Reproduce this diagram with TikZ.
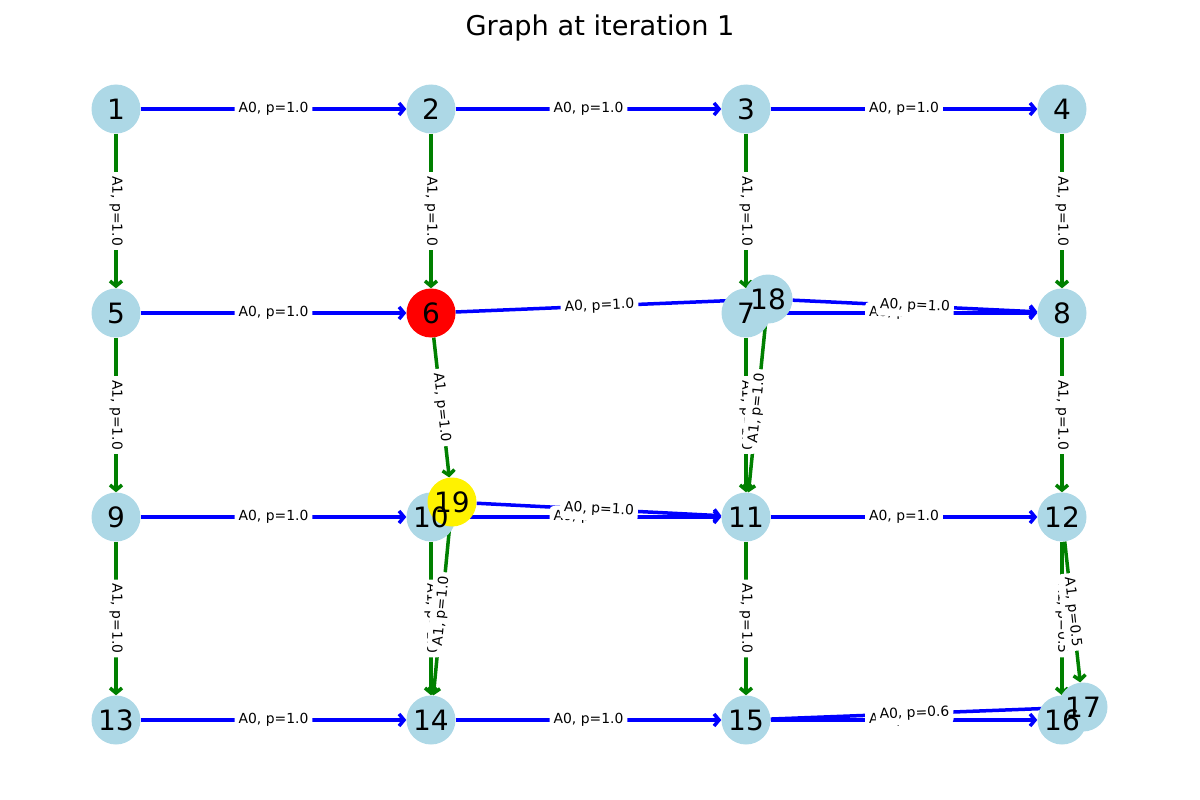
\documentclass[tikz,border=0pt]{standalone}
\usepackage{fontspec}
\setmainfont{DejaVu Sans}
\usetikzlibrary{arrows.meta,calc}
\pgfdeclarelayer{edges}
\pgfdeclarelayer{elabels}
\pgfsetlayers{edges,elabels,main}
\definecolor{lb}{HTML}{ADD8E6}
\definecolor{egreen}{HTML}{008000}
\tikzset{
  vtx/.style={circle, fill=lb, draw=none, minimum size=49pt, inner sep=0pt},
  vlab/.style={font=\fontsize{28}{28}\selectfont, inner sep=0pt, text=black},
  a0/.style={draw=blue, line width=3.5pt, -{Straight Barb[length=5pt,width=12pt]}},
  a1/.style={a0, draw=egreen},
  elab/.style={fill=white, inner xsep=4pt, inner ysep=4.5pt, rounded corners=4pt, font=\fontsize{13.9}{14}\selectfont, text=black},
}
\newcommand\myedge[5]{%
  \begin{pgfonlayer}{edges}\draw[#3] (n#1) -- (n#2);\end{pgfonlayer}%
  \begin{pgfonlayer}{elabels}\node[elab, rotate=#5] (l#1-#2) at ($(n#1)!0.5!(n#2)$) {#4};\end{pgfonlayer}%
}
\begin{document}
\begin{tikzpicture}[x=1pt,y=-1pt]
\useasboundingbox (0,0) rectangle (1200,800);
\node[font=\fontsize{27.2}{28}\selectfont] (title) at (600,28) {Graph at iteration 1};
% vertices
\node[vtx] (n1) at (116,109) {};
\node[vtx] (n2) at (431,109) {};
\node[vtx] (n3) at (746,109) {};
\node[vtx] (n4) at (1062,109) {};
\node[vtx] (n5) at (116,313) {};
\node[vtx, fill=red] (n6) at (431,313) {};
\node[vtx] (n7) at (746,313) {};
\node[vtx] (n8) at (1062,313) {};
\node[vtx] (n9) at (116,517) {};
\node[vtx] (n10) at (431,517) {};
\node[vtx] (n11) at (746,517) {};
\node[vtx] (n12) at (1062,517) {};
\node[vtx] (n13) at (116,720) {};
\node[vtx] (n14) at (431,720) {};
\node[vtx] (n15) at (746,720) {};
\node[vtx] (n16) at (1062,720) {};
\node[vtx] (n17) at (1083,707) {};
\node[vtx] (n18) at (768,299) {};
\node[vtx, fill=yellow] (n19) at (452,502) {};
% vertex labels on top of all circles
\foreach \i in {1,...,19} {\node[vlab] (t\i) at (n\i) {\i};}
% hidden (covered) edges first
\myedge{7}{8}{a0}{A0, p=1.0}{0}
\myedge{10}{11}{a0}{A0, p=1.0}{0}
\myedge{15}{16}{a0}{A0, p=0.4}{0}
\myedge{7}{11}{a1}{A1, p=1.0}{-90}
\myedge{10}{14}{a1}{A1, p=1.0}{-90}
\myedge{12}{16}{a1}{A1, p=0.5}{-90}
% A0 edges
\myedge{1}{2}{a0}{A0, p=1.0}{0}
\myedge{2}{3}{a0}{A0, p=1.0}{0}
\myedge{3}{4}{a0}{A0, p=1.0}{0}
\myedge{5}{6}{a0}{A0, p=1.0}{0}
\myedge{6}{18}{a0}{A0, p=1.0}{2.37}
\myedge{18}{8}{a0}{A0, p=1.0}{-2.74}
\myedge{9}{10}{a0}{A0, p=1.0}{0}
\myedge{19}{11}{a0}{A0, p=1.0}{-2.92}
\myedge{11}{12}{a0}{A0, p=1.0}{0}
\myedge{13}{14}{a0}{A0, p=1.0}{0}
\myedge{14}{15}{a0}{A0, p=1.0}{0}
\myedge{15}{17}{a0}{A0, p=0.6}{2.2}
% A1 edges
\myedge{1}{5}{a1}{A1, p=1.0}{-90}
\myedge{2}{6}{a1}{A1, p=1.0}{-90}
\myedge{3}{7}{a1}{A1, p=1.0}{-90}
\myedge{4}{8}{a1}{A1, p=1.0}{-90}
\myedge{5}{9}{a1}{A1, p=1.0}{-90}
\myedge{6}{19}{a1}{A1, p=1.0}{-83.66}
\myedge{18}{11}{a1}{A1, p=1.0}{84.0}
\myedge{8}{12}{a1}{A1, p=1.0}{-90}
\myedge{9}{13}{a1}{A1, p=1.0}{-90}
\myedge{19}{14}{a1}{A1, p=1.0}{84.5}
\myedge{11}{15}{a1}{A1, p=1.0}{-90}
\myedge{12}{17}{a1}{A1, p=0.5}{-83.7}
\end{tikzpicture}
\end{document}
